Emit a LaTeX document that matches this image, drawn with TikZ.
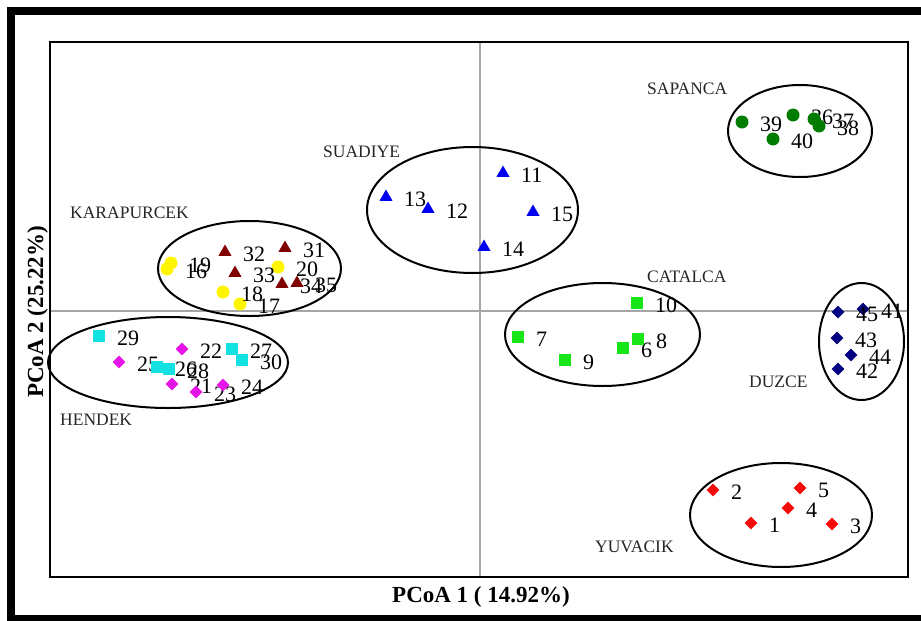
\documentclass[tikz,border=0pt]{standalone}
\usepackage{fontspec}
\setmainfont{Liberation Serif}
\usetikzlibrary{shapes.geometric}
\definecolor{triblue}{RGB}{0,0,240}
\definecolor{trired}{RGB}{128,0,0}
\definecolor{cyellow}{RGB}{255,245,0}
\definecolor{sqcyan}{RGB}{20,225,225}
\definecolor{dmag}{RGB}{230,20,230}
\definecolor{sqlime}{RGB}{25,230,25}
\definecolor{cgreen}{RGB}{0,125,0}
\definecolor{dnavy}{RGB}{0,0,128}
\definecolor{dred}{RGB}{245,10,10}
\definecolor{axgray}{RGB}{165,165,165}
\tikzset{
  tri/.style={regular polygon, regular polygon sides=3, minimum size=15pt, inner sep=0pt, fill=#1},
  circ/.style={circle, minimum size=13pt, inner sep=0pt, fill=#1},
  sqr/.style={rectangle, minimum size=12pt, inner sep=0pt, fill=#1},
  diam/.style={diamond, aspect=1, minimum size=13pt, inner sep=0pt, fill=#1},
  numlab/.style={anchor=west, inner sep=0pt, font=\fontsize{22}{22}\selectfont},
  grplab/.style={anchor=west, inner sep=0pt, font=\fontsize{17.5}{17.5}\selectfont, text=black!85},
  grpell/.style={ellipse, draw=black, line width=2pt, inner sep=0pt},
  axline/.style={draw=axgray, line width=1.5pt},
  axtitle/.style={inner sep=0pt, font=\fontsize{23}{23}\selectfont\bfseries},
}
\newcommand\mkpt[4]{%
  \node[#1] (m#2) at (#3,#4) {};
  \node[numlab] (l#2) at ([xshift=18pt,yshift=-2pt]m#2.center) {#2};}
\begin{document}
\begin{tikzpicture}[x=1pt,y=-1pt]
\useasboundingbox (0,0) rectangle (921,621);
\fill[white] (0,0) rectangle (921,621);
% outer frame
\coordinate (otl) at (11,11);
\coordinate (obr) at (926,619);
\draw[line width=8pt] (otl) rectangle (obr);
% plot area
\coordinate (ptl) at (50,42);
\coordinate (pbr) at (908,577);
\coordinate (vtop) at (480,42);
\coordinate (vbot) at (480,577);
\coordinate (hleft) at (50,311);
\coordinate (hright) at (908,311);
\draw[axline] (vtop) -- (vbot);
\draw[axline] (hleft) -- (hright);
\draw[line width=2pt] (ptl) rectangle (pbr);
% axis titles
\node[axtitle, anchor=base] (xt) at (481,602) {PCoA 1 ( 14.92\%)};
\node[axtitle, anchor=base, rotate=90] (yt) at (43,312) {PCoA 2 (25.22\%)};
% ellipses
\node[grpell, minimum width=211pt, minimum height=126pt] (eSua) at (472.5,210) {};
\node[grpell, minimum width=183pt, minimum height=95pt] (eKar) at (249.5,268.5) {};
\node[grpell, minimum width=144pt, minimum height=92pt] (eSap) at (800,131) {};
\node[grpell, minimum width=195pt, minimum height=103pt] (eCat) at (602.5,334.5) {};
\node[grpell, minimum width=240pt, minimum height=91pt] (eHen) at (168,362.5) {};
\node[grpell, minimum width=85pt, minimum height=117pt] (eDuz) at (861.5,341.5) {};
\node[grpell, minimum width=182pt, minimum height=104pt] (eYuv) at (781,515) {};
% group labels
\node[grplab] (gSua) at (323,152) {SUADIYE};
\node[grplab] (gKar) at (70,213) {KARAPURCEK};
\node[grplab] (gSap) at (647,89) {SAPANCA};
\node[grplab] (gCat) at (647,277) {CATALCA};
\node[grplab] (gHen) at (60,420) {HENDEK};
\node[grplab] (gDuz) at (749,382) {DUZCE};
\node[grplab] (gYuv) at (595,547) {YUVACIK};
% Yuvacik
\mkpt{diam=dred}{1}{751}{523}
\mkpt{diam=dred}{2}{713}{490}
\mkpt{diam=dred}{3}{832}{524}
\mkpt{diam=dred}{4}{788}{508}
\mkpt{diam=dred}{5}{800}{488}
% Catalca
\mkpt{sqr=sqlime}{6}{623}{348}
\mkpt{sqr=sqlime}{7}{518}{337}
\mkpt{sqr=sqlime}{8}{638}{339}
\mkpt{sqr=sqlime}{9}{565}{360}
\mkpt{sqr=sqlime}{10}{637}{303}
% Suadiye
\mkpt{tri=triblue}{11}{503}{173}
\mkpt{tri=triblue}{12}{428}{209}
\mkpt{tri=triblue}{13}{386}{197}
\mkpt{tri=triblue}{14}{484}{247}
\mkpt{tri=triblue}{15}{533}{212}
% Karapurcek yellow
\mkpt{circ=cyellow}{16}{167}{269}
\mkpt{circ=cyellow}{17}{240}{304}
\mkpt{circ=cyellow}{18}{223}{292}
\mkpt{circ=cyellow}{19}{171}{263}
\mkpt{circ=cyellow}{20}{278}{267}
% Hendek magenta
\mkpt{diam=dmag}{21}{172}{384}
\mkpt{diam=dmag}{22}{182}{349}
\mkpt{diam=dmag}{23}{196}{392}
\mkpt{diam=dmag}{24}{223}{385}
\mkpt{diam=dmag}{25}{119}{362}
% Hendek cyan
\mkpt{sqr=sqcyan}{26}{157}{367}
\mkpt{sqr=sqcyan}{27}{232}{349}
\mkpt{sqr=sqcyan}{28}{169}{369}
\mkpt{sqr=sqcyan}{29}{99}{336}
\mkpt{sqr=sqcyan}{30}{242}{360}
% Karapurcek maroon
\mkpt{tri=trired}{31}{285}{248}
\mkpt{tri=trired}{32}{225}{252}
\mkpt{tri=trired}{33}{235}{273}
\mkpt{tri=trired}{34}{282}{284}
\mkpt{tri=trired}{35}{297}{283}
% Sapanca
\mkpt{circ=cgreen}{36}{793}{115}
\mkpt{circ=cgreen}{37}{814}{119}
\mkpt{circ=cgreen}{38}{819}{126}
\mkpt{circ=cgreen}{39}{742}{122}
\mkpt{circ=cgreen}{40}{773}{139}
% Duzce
\mkpt{diam=dnavy}{41}{863}{309}
\mkpt{diam=dnavy}{42}{838}{369}
\mkpt{diam=dnavy}{43}{837}{338}
\mkpt{diam=dnavy}{44}{851}{355}
\mkpt{diam=dnavy}{45}{838}{312}
\end{tikzpicture}
\end{document}
